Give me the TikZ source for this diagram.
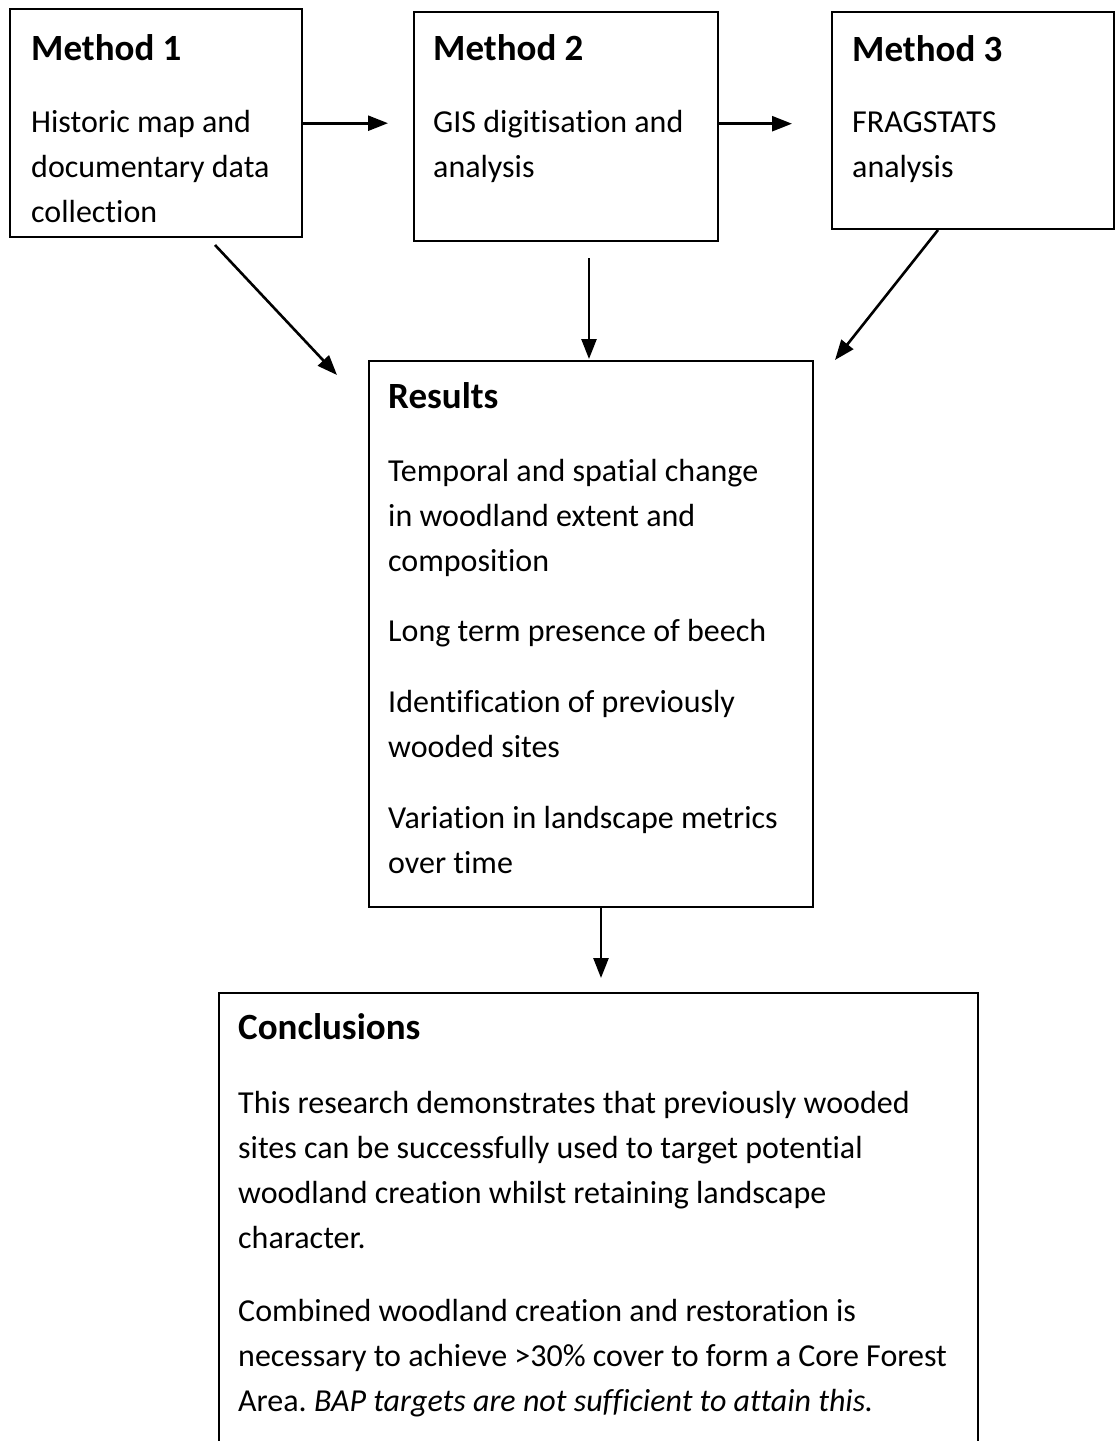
\documentclass[tikz,border=0pt]{standalone}
\usepackage{fontspec}
\setmainfont{Carlito}[Ligatures=NoCommon]
\usetikzlibrary{arrows.meta}
\frenchspacing
\begin{document}
\begin{tikzpicture}[x=1pt,y=-1pt,
  frame/.style={draw, line width=2.4pt, inner sep=0pt, anchor=north west},
  heading/.style={font=\fontsize{37}{42}\selectfont\bfseries, anchor=base west, inner sep=0pt},
  body/.style={font=\fontsize{32}{45}\selectfont, anchor=base west, inner sep=0pt, align=flush left, text width=#1},
  link/.style={line width=2.6pt, -{Triangle[length=20pt,width=15pt]}}
]
\useasboundingbox (0,0) rectangle (1115,1441);
\clip (0,0) rectangle (1115,1441);

% method boxes
\node[frame, minimum width=292pt, minimum height=228pt] (m1) at (9,8) {};
\node[frame, minimum width=304pt, minimum height=229pt] (m2) at (413,11) {};
\node[frame, minimum width=282pt, minimum height=217pt] (m3) at (831,11) {};

\node[heading] (m1h) at (31,60) {Method 1};
\node[body=280pt] (m1b) at (31,132) {Historic map and\\documentary data\\collection};
\node[heading] (m2h) at (433,60) {Method 2};
\node[body=300pt] (m2b) at (433,132) {GIS digitisation and\\analysis};
\node[heading] (m3h) at (852,61) {Method 3};
\node[body=260pt] (m3b) at (852,132) {FRAGSTATS\\analysis};

% results box
\node[frame, minimum width=444pt, minimum height=546pt] (res) at (368,360) {};
\node[heading] (resh) at (388,408) {Results};
\node[body=430pt] (r1) at (388,481) {Temporal and spatial change\\in woodland extent and\\composition};
\node[body=430pt] (r2) at (388,641) {Long term presence of beech};
\node[body=430pt] (r3) at (388,712) {Identification of previously\\wooded sites};
\node[body=430pt] (r4) at (388,828) {Variation in landscape metrics\\over time};

% conclusions box (runs past the lower edge)
\node[frame, minimum width=759pt, minimum height=480pt] (con) at (218,992) {};
\node[heading] (conh) at (238,1039) {Conclusions};
\node[body=740pt] (c1) at (238,1113) {This research demonstrates that previously wooded\\sites can be successfully used to target potential\\woodland creation whilst retaining landscape\\character.};
\node[body=740pt] (c2) at (238,1321) {Combined woodland creation and restoration is\\necessary to achieve >30\% cover to form a Core Forest\\Area. \textit{BAP targets are not sufficient to attain this.}};

% free ends of the connectors
\coordinate (a1s) at (215,245);
\coordinate (a1e) at (337,375);
\coordinate (a2s) at (589,258);
\coordinate (a2e) at (589,359);
\coordinate (a3s) at (938,230);
\coordinate (a3e) at (835,360);
\coordinate (a4s) at (601,906);
\coordinate (a4e) at (601,978);

% connectors
\draw[link, shorten >=25pt] (m1.east) -- (m1.east -| m2.west);
\draw[link, shorten >=39pt] ([yshift=3pt]m2.east) -- ([yshift=3pt]m2.east -| m3.west);
\draw[link] (a1s) -- (a1e);
\draw[link] (a2s) -- (a2e);
\draw[link] (a3s) -- (a3e);
\draw[link] (a4s) -- (a4e);
\end{tikzpicture}
\end{document}
